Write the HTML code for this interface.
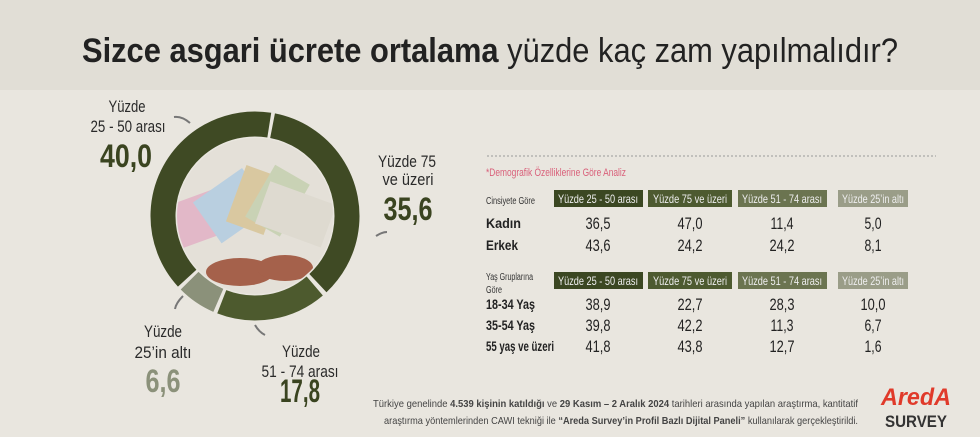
<!DOCTYPE html>
<html><head><meta charset="utf-8"><style>
html,body{margin:0;padding:0;background:#e8e5de;}
svg{display:block;}
text{font-family:"Liberation Sans Narrow","Liberation Sans",sans-serif;}
</style></head><body>
<svg width="980" height="437" viewBox="0 0 980 437" xmlns="http://www.w3.org/2000/svg">
<defs>
<clipPath id="inner"><circle cx="255" cy="216" r="78"/></clipPath>
</defs>
<rect width="980" height="437" fill="#e9e6df"/>
<rect width="980" height="90" fill="#dcd8d0" opacity="0.6"/>
<text x="82" y="62" font-size="34" fill="#222" textLength="816" lengthAdjust="spacingAndGlyphs"><tspan font-weight="bold">Sizce asgari ücrete ortalama</tspan> yüzde kaç zam yapılmalıdır?</text>

<g fill="none" stroke-width="25">
<circle cx="255" cy="216" r="92" stroke="#3f4a24" stroke-dasharray="202 400" transform="rotate(-79 255 216)"/>
<circle cx="255" cy="216" r="92" stroke="#4d5a2e" stroke-dasharray="99 500" transform="rotate(49.5 255 216)"/>
<circle cx="255" cy="216" r="92" stroke="#8b917a" stroke-dasharray="35 560" transform="rotate(113.5 255 216)"/>
<circle cx="255" cy="216" r="92" stroke="#3f4a24" stroke-dasharray="227 400" transform="rotate(137.5 255 216)"/>
</g>
<g clip-path="url(#inner)">
<rect x="170" y="130" width="170" height="170" fill="#e4e0d8"/>
<g transform="rotate(-20 230 215)"><rect x="175" y="185" width="70" height="45" fill="#e2b8c8"/></g>
<g transform="rotate(-35 240 200)"><rect x="200" y="175" width="60" height="50" fill="#b9cfe0"/></g>
<g transform="rotate(-70 255 200)"><rect x="225" y="180" width="60" height="40" fill="#d9c8a0"/></g>
<g transform="rotate(-60 275 205)"><rect x="250" y="185" width="60" height="40" fill="#c9d2b5"/></g>
<g transform="rotate(20 290 215)"><rect x="260" y="190" width="70" height="45" fill="#dedad0"/></g>
<ellipse cx="240" cy="272" rx="34" ry="14" fill="#a5614b"/>
<ellipse cx="285" cy="268" rx="28" ry="13" fill="#a5614b"/>
</g>

<g fill="#2a2a2a" text-anchor="middle" lengthAdjust="spacingAndGlyphs">
<text x="127" y="112" font-size="17" textLength="37" lengthAdjust="spacingAndGlyphs">Yüzde</text>
<text x="128" y="132" font-size="17" textLength="75" lengthAdjust="spacingAndGlyphs">25 - 50 arası</text>
<text x="126" y="167" font-size="32" font-weight="bold" fill="#3a4420" textLength="52" lengthAdjust="spacingAndGlyphs">40,0</text>
<text x="407" y="167" font-size="17" textLength="58" lengthAdjust="spacingAndGlyphs">Yüzde 75</text>
<text x="408" y="185" font-size="17" textLength="51" lengthAdjust="spacingAndGlyphs">ve üzeri</text>
<text x="408" y="220" font-size="32" font-weight="bold" fill="#3a4420" textLength="49" lengthAdjust="spacingAndGlyphs">35,6</text>
<text x="163" y="337" font-size="17" textLength="38" lengthAdjust="spacingAndGlyphs">Yüzde</text>
<text x="163" y="358" font-size="17" textLength="57" lengthAdjust="spacingAndGlyphs">25’in altı</text>
<text x="163" y="392" font-size="32" font-weight="bold" fill="#8b917a" textLength="35" lengthAdjust="spacingAndGlyphs">6,6</text>
<text x="301" y="357" font-size="17" textLength="38" lengthAdjust="spacingAndGlyphs">Yüzde</text>
<text x="300" y="377" font-size="17" textLength="77" lengthAdjust="spacingAndGlyphs">51 - 74 arası</text>
<text x="300" y="402" font-size="32" font-weight="bold" fill="#3a4420" textLength="40" lengthAdjust="spacingAndGlyphs">17,8</text>
</g>
<g stroke="#777" stroke-width="2" fill="none">
<path d="M190 123 Q182 116 174 117"/><path d="M376 236 Q382 232 387 232"/>
<path d="M183 296 Q176 303 175 309"/><path d="M255 325 Q259 332 265 335"/>
</g>

<line x1="487" y1="156" x2="936" y2="156" stroke="#999" stroke-dasharray="2 2"/>
<text x="486" y="176" font-size="11" fill="#d9607a" textLength="140" lengthAdjust="spacingAndGlyphs">*Demografik Özelliklerine Göre Analiz</text>
<text x="486" y="204" font-size="10" fill="#333" textLength="49" lengthAdjust="spacingAndGlyphs">Cinsiyete Göre</text>
<text x="486" y="280" font-size="10" fill="#333" textLength="47" lengthAdjust="spacingAndGlyphs">Yaş Gruplarına</text>
<text x="486" y="293" font-size="10" fill="#333" textLength="16" lengthAdjust="spacingAndGlyphs">Göre</text>
<g>
<rect x="554" y="190" width="89" height="17" fill="#3b4722"/>
<rect x="648" y="190" width="84" height="17" fill="#4d5a30"/>
<rect x="738" y="190" width="89" height="17" fill="#6b7450"/>
<rect x="838" y="190" width="70" height="17" fill="#9a9d88"/>
<rect x="554" y="272" width="89" height="17" fill="#3b4722"/>
<rect x="648" y="272" width="84" height="17" fill="#4d5a30"/>
<rect x="738" y="272" width="89" height="17" fill="#6b7450"/>
<rect x="838" y="272" width="70" height="17" fill="#9a9d88"/>
</g>
<g fill="#eee" font-size="12" text-anchor="middle">
<text x="598" y="203" textLength="80" lengthAdjust="spacingAndGlyphs">Yüzde 25 - 50 arası</text><text x="690" y="203" textLength="74" lengthAdjust="spacingAndGlyphs">Yüzde 75 ve üzeri</text><text x="782" y="203" textLength="80" lengthAdjust="spacingAndGlyphs">Yüzde 51 - 74 arası</text><text x="873" y="203" textLength="62" lengthAdjust="spacingAndGlyphs">Yüzde 25’in altı</text>
<text x="598" y="285" textLength="80" lengthAdjust="spacingAndGlyphs">Yüzde 25 - 50 arası</text><text x="690" y="285" textLength="74" lengthAdjust="spacingAndGlyphs">Yüzde 75 ve üzeri</text><text x="782" y="285" textLength="80" lengthAdjust="spacingAndGlyphs">Yüzde 51 - 74 arası</text><text x="873" y="285" textLength="62" lengthAdjust="spacingAndGlyphs">Yüzde 25’in altı</text>
</g>
<g fill="#222" font-size="14" font-weight="bold">
<text x="486" y="228" textLength="35" lengthAdjust="spacingAndGlyphs">Kadın</text><text x="486" y="250" textLength="32" lengthAdjust="spacingAndGlyphs">Erkek</text>
<text x="486" y="309" textLength="49" lengthAdjust="spacingAndGlyphs">18-34 Yaş</text><text x="486" y="330" textLength="49" lengthAdjust="spacingAndGlyphs">35-54 Yaş</text><text x="486" y="351" textLength="68" lengthAdjust="spacingAndGlyphs">55 yaş ve üzeri</text>
</g>
<g fill="#222" font-size="17" text-anchor="middle" lengthAdjust="spacingAndGlyphs">
<text x="598" y="229" textLength="25" lengthAdjust="spacingAndGlyphs">36,5</text><text x="690" y="229" textLength="25" lengthAdjust="spacingAndGlyphs">47,0</text><text x="782" y="229" textLength="23" lengthAdjust="spacingAndGlyphs">11,4</text><text x="873" y="229" textLength="17" lengthAdjust="spacingAndGlyphs">5,0</text>
<text x="598" y="251" textLength="25" lengthAdjust="spacingAndGlyphs">43,6</text><text x="690" y="251" textLength="25" lengthAdjust="spacingAndGlyphs">24,2</text><text x="782" y="251" textLength="25" lengthAdjust="spacingAndGlyphs">24,2</text><text x="873" y="251" textLength="17" lengthAdjust="spacingAndGlyphs">8,1</text>
<text x="598" y="310" textLength="25" lengthAdjust="spacingAndGlyphs">38,9</text><text x="690" y="310" textLength="25" lengthAdjust="spacingAndGlyphs">22,7</text><text x="782" y="310" textLength="25" lengthAdjust="spacingAndGlyphs">28,3</text><text x="873" y="310" textLength="25" lengthAdjust="spacingAndGlyphs">10,0</text>
<text x="598" y="331" textLength="25" lengthAdjust="spacingAndGlyphs">39,8</text><text x="690" y="331" textLength="25" lengthAdjust="spacingAndGlyphs">42,2</text><text x="782" y="331" textLength="23" lengthAdjust="spacingAndGlyphs">11,3</text><text x="873" y="331" textLength="17" lengthAdjust="spacingAndGlyphs">6,7</text>
<text x="598" y="352" textLength="25" lengthAdjust="spacingAndGlyphs">41,8</text><text x="690" y="352" textLength="25" lengthAdjust="spacingAndGlyphs">43,8</text><text x="782" y="352" textLength="25" lengthAdjust="spacingAndGlyphs">12,7</text><text x="873" y="352" textLength="17" lengthAdjust="spacingAndGlyphs">1,6</text>
</g>

<g fill="#444" font-size="10.5">
<text x="373" y="407" textLength="485" lengthAdjust="spacingAndGlyphs">Türkiye genelinde <tspan font-weight="bold">4.539 kişinin katıldığı</tspan> ve <tspan font-weight="bold">29 Kasım – 2 Aralık 2024</tspan> tarihleri arasında yapılan araştırma, kantitatif</text>
<text x="384" y="424" textLength="474" lengthAdjust="spacingAndGlyphs">araştırma yöntemlerinden CAWI tekniği ile <tspan font-weight="bold">“Areda Survey’in Profil Bazlı Dijital Paneli”</tspan> kullanılarak gerçekleştirildi.</text>
</g>
<text x="916" y="405" font-size="24" font-weight="bold" fill="#e03a2a" text-anchor="middle" font-style="italic" textLength="70" lengthAdjust="spacingAndGlyphs">AredA</text>
<text x="916" y="427" font-size="17" font-weight="bold" fill="#333" text-anchor="middle" textLength="62" lengthAdjust="spacingAndGlyphs">SURVEY</text>
</svg>
</body></html>
